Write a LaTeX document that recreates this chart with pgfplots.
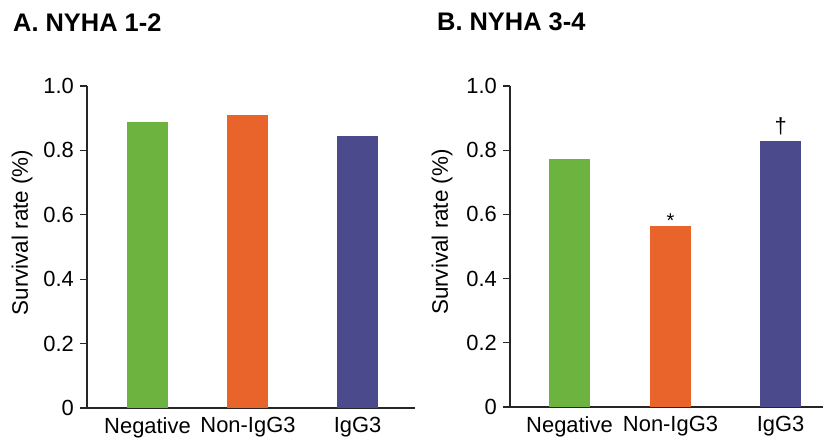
\documentclass[border=0pt]{standalone}
\usepackage{fontspec}
\setmainfont{Liberation Sans}
\usepackage{pgfplots}
\pgfplotsset{compat=1.18}
\definecolor{cgreen}{RGB}{108,179,63}
\definecolor{corange}{RGB}{233,100,42}
\definecolor{cpurple}{RGB}{75,74,140}
\begin{document}
\begin{tikzpicture}[x=1bp,y=1bp]
\useasboundingbox (0,0) rectangle (828,443);
\pgfplotsset{
  panel/.style={
    scale only axis, ymin=0, ymax=1,
    axis x line=bottom, axis y line=left,
    axis line style={-, line width=1.3bp, black!85},
    ytick={0,0.2,0.4,0.6,0.8,1}, yticklabels={0,0.2,0.4,0.6,0.8,1.0},
    xtick={0,1,2.09}, xticklabels={Negative,Non-IgG3,IgG3},
    tick align=outside, major tick length=7bp,
    x tick style={draw=none}, y tick style={line width=1.1bp, black!85},
    /pgf/number format/assume math mode=true,
    ticklabel style={font=\fontsize{22}{26}\selectfont},
    xticklabel style={inner sep=0pt, anchor=north, yshift=-2bp},
    yticklabel style={inner xsep=0pt, xshift=-6bp},
    ylabel={Survival rate (\%)},
    ylabel style={font=\fontsize{22.5}{26}\selectfont, anchor=center},
    ybar, bar shift=0pt, bar width=41bp,
    every axis plot/.append style={draw=none},
    clip=false,
  }
}
\begin{axis}[panel, at={(87bp,35bp)}, anchor=south west, width=328bp, height=322bp,
  xmin=-0.602, xmax=2.662,
  ylabel style={at={(axis description cs:-0.198,0.545)}}]
  \addplot[fill=cgreen] coordinates {(0,0.888)};
  \addplot[fill=corange] coordinates {(1,0.91)};
  \addplot[fill=cpurple] coordinates {(2.09,0.845)};
\end{axis}
\begin{axis}[panel, at={(510bp,36bp)}, anchor=south west, width=313bp, height=321bp,
  xmin=-0.589, xmax=2.51,
  ylabel style={at={(axis description cs:-0.217,0.545)}}]
  \addplot[fill=cgreen] coordinates {(0,0.772)};
  \addplot[fill=corange] coordinates {(1,0.564)};
  \addplot[fill=cpurple] coordinates {(2.09,0.829)};
  \node[anchor=base, inner sep=0pt, font=\fontsize{20}{24}\selectfont, yshift=-2bp] at (axis cs:1,0.564) {*};
  \node[anchor=base, inner sep=0pt, font=\fontsize{22}{26}\selectfont, yshift=7bp] at (axis cs:2.09,0.829) {†};
\end{axis}
\node[anchor=base west, inner sep=0pt, font=\fontsize{25.5}{30}\selectfont\bfseries] at (13,411) {A. NYHA 1-2};
\node[anchor=base west, inner sep=0pt, font=\fontsize{25.5}{30}\selectfont\bfseries] at (437,412) {B. NYHA 3-4};
\end{tikzpicture}
\end{document}
